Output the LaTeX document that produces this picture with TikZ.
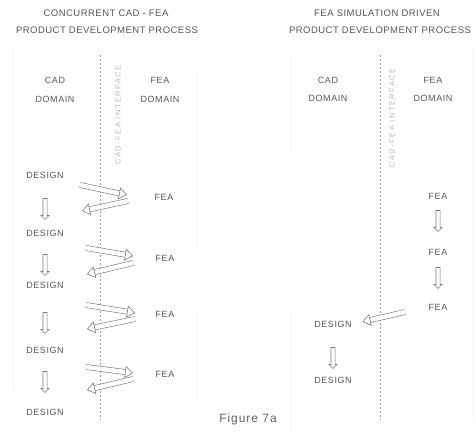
\documentclass[tikz,border=0pt]{standalone}
\usepackage{fontspec}
\setmainfont{Liberation Sans}
\usetikzlibrary{positioning, arrows.meta, shapes.arrows}

\definecolor{txtgray}{HTML}{555555}
\definecolor{arrgray}{HTML}{7A7A7A}
\definecolor{linegray}{HTML}{9A9A9A}

\tikzset{
  lbl/.style={font=\fontsize{9}{10}\selectfont\addfontfeature{LetterSpace=6}, text=txtgray, inner sep=1pt},
  ttl/.style={font=\fontsize{9.5}{11}\selectfont\addfontfeature{LetterSpace=5}, text=txtgray, inner sep=1pt},
  ifacetext/.style={font=\fontsize{7.5}{9}\selectfont\addfontfeature{LetterSpace=20}, text=gray!55, rotate=90, inner sep=1pt},
  iface/.style={draw=linegray, dash pattern=on 1.5pt off 2.5pt, line width=0.7pt},
  panelline/.style={draw=gray!9, line width=0.8pt},
  hollow/.style={draw=arrgray, line width=0.6pt, double=white, double distance=4.5pt, -{Triangle[open, length=8pt, width=12pt]}},
  downblk/.style={single arrow, draw=arrgray, fill=white, line width=0.6pt, shape border rotate=270,
    minimum height=21pt, inner sep=0pt, text width=3.5pt, text height=0pt, text depth=0pt,
    single arrow head extend=2pt, single arrow head indent=0pt}
}

\begin{document}
\begin{tikzpicture}[x=1pt, y=-1pt]
    \useasboundingbox (0,0) rectangle (476,431);

    % faint panel borders
    \draw[panelline] (13,45) -- (13,390);
    \draw[panelline] (197,72) -- (197,247);
    \draw[panelline] (197,310) -- (197,400);
    \draw[panelline] (290,53) -- (290,153);
    \draw[panelline] (290,313) -- (290,431);
    \draw[panelline] (473,45) -- (473,420);

    % left panel: concurrent process
    \node[ttl] (ttlA1) at (106,13) {CONCURRENT CAD - FEA};
    \node[ttl] (ttlA2) at (107,30) {PRODUCT DEVELOPMENT PROCESS};
    \node[lbl] (cadA) at (55,80) {CAD};
    \node[lbl] (cadAdom) at (55,99) {DOMAIN};
    \node[lbl] (feaA) at (160,80) {FEA};
    \node[lbl] (feaAdom) at (160,99) {DOMAIN};
    \coordinate (ifA1) at (100,55);
    \coordinate (ifA2) at (100,420);
    \draw[iface] (ifA1) -- (ifA2);
    \node[ifacetext] (ifAtxt) at (118,115) {CAD-FEA INTERFACE};

    \node[lbl] (d1) at (45,175) {DESIGN};
    \node[lbl] (d2) at (45,233) {DESIGN};
    \node[lbl] (d3) at (45,285) {DESIGN};
    \node[lbl] (d4) at (45,350) {DESIGN};
    \node[lbl] (d5) at (45,412) {DESIGN};
    \node[lbl] (f1) at (164,197) {FEA};
    \node[lbl] (f2) at (165,258) {FEA};
    \node[lbl] (f3) at (165,314) {FEA};
    \node[lbl] (f4) at (165,374) {FEA};

    \node[downblk] (a1) at (45,208) {};
    \node[downblk] (a2) at (45,264) {};
    \node[downblk] (a3) at (45,322) {};
    \node[downblk] (a4) at (45,381) {};

    % design -> fea -> design loops
    \coordinate (r1a) at (80,185);  \coordinate (r1b) at (127,195);
    \coordinate (l1a) at (128,201); \coordinate (l1b) at (82,211);
    \coordinate (r2a) at (86,248);  \coordinate (r2b) at (133,256);
    \coordinate (l2a) at (133,263); \coordinate (l2b) at (87,274);
    \coordinate (r3a) at (86,305);  \coordinate (r3b) at (135,313);
    \coordinate (l3a) at (135,319); \coordinate (l3b) at (87,329);
    \coordinate (r4a) at (86,367);  \coordinate (r4b) at (133,373);
    \coordinate (l4a) at (133,379); \coordinate (l4b) at (87,390);
    \draw[hollow] (r1a) -- (r1b);
    \draw[hollow] (l1a) -- (l1b);
    \draw[hollow] (r2a) -- (r2b);
    \draw[hollow] (l2a) -- (l2b);
    \draw[hollow] (r3a) -- (r3b);
    \draw[hollow] (l3a) -- (l3b);
    \draw[hollow] (r4a) -- (r4b);
    \draw[hollow] (l4a) -- (l4b);

    % right panel: simulation driven process
    \node[ttl] (ttlB1) at (377,13) {FEA SIMULATION DRIVEN};
    \node[ttl] (ttlB2) at (380,30) {PRODUCT DEVELOPMENT PROCESS};
    \node[lbl] (cadB) at (328,80) {CAD};
    \node[lbl] (cadBdom) at (328,98) {DOMAIN};
    \node[lbl] (feaB) at (433,80) {FEA};
    \node[lbl] (feaBdom) at (433,98) {DOMAIN};
    \coordinate (ifB1) at (380,55);
    \coordinate (ifB2) at (380,420);
    \draw[iface] (ifB1) -- (ifB2);
    \node[ifacetext] (ifBtxt) at (392,118) {CAD-FEA INTERFACE};

    \node[lbl] (g1) at (438,196) {FEA};
    \node[lbl] (g2) at (438,252) {FEA};
    \node[lbl] (g3) at (438,307) {FEA};
    \node[lbl] (e1) at (333,324) {DESIGN};
    \node[lbl] (e2) at (333,380) {DESIGN};

    \node[downblk] (b1) at (438,220) {};
    \node[downblk] (b2) at (438,277) {};
    \coordinate (l5a) at (405,312);
    \draw[hollow, shorten >=10pt] (l5a) -- (e1.east);
    \node[downblk] (b3) at (333,357) {};

    \node[font=\fontsize{12}{14}\selectfont\addfontfeature{LetterSpace=8}, text=gray!75!black] (cap) at (248,419) {Figure 7a};
  \end{tikzpicture}
\end{document}
